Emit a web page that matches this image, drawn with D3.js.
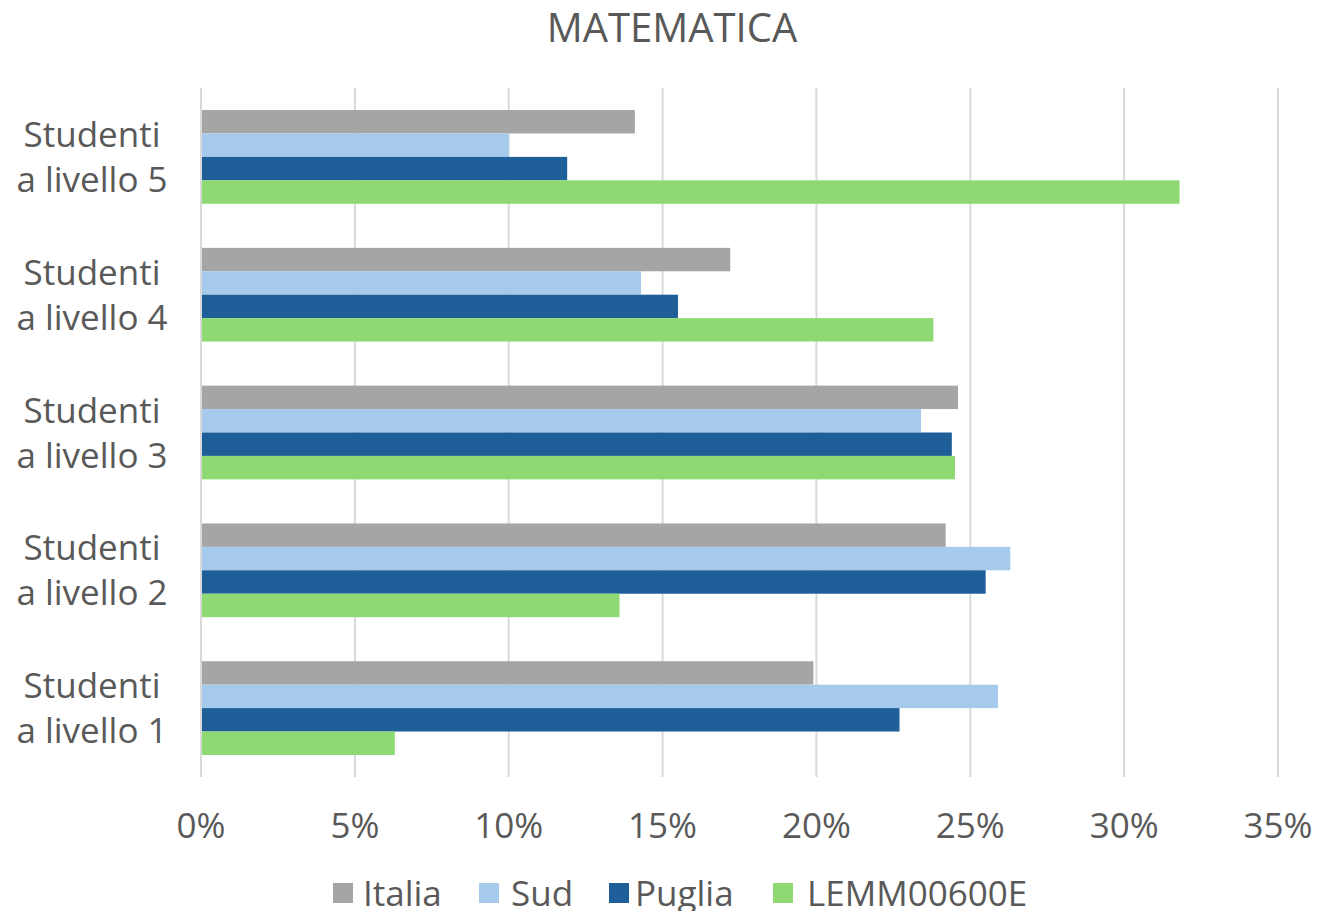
<!DOCTYPE html>
<html>
<head>
<meta charset="utf-8">
<script src="https://cdn.jsdelivr.net/npm/d3@7"></script>
<style>
  body { margin: 0; background: #fff; }
  text { font-family: "Open Sans", "Noto Sans", sans-serif; fill: #595959; }
</style>
</head>
<body>
<script>
// Data
var categories = ["Studenti a livello 5", "Studenti a livello 4", "Studenti a livello 3", "Studenti a livello 2", "Studenti a livello 1"];
var series = ["Italia", "Sud", "Puglia", "LEMM00600E"];
var colors = ["#A5A5A5", "#A6CAEC", "#1F5F99", "#8ED973"];
var italia = [14.1, 17.2, 24.6, 24.2, 19.9];
var sud = [10.0, 14.3, 23.4, 26.3, 25.9];
var puglia = [11.9, 15.5, 24.4, 25.5, 22.7];
var lemm = [31.8, 23.8, 24.5, 13.6, 6.3];
var ticks = [0, 5, 10, 15, 20, 25, 30, 35];

var values = [italia, sud, puglia, lemm];

var W = 1319, H = 911;
var margin = {top: 88, right: 41, bottom: 134, left: 201};
var width = W - margin.left - margin.right,
    height = H - margin.top - margin.bottom;

var svg = d3.select("body").append("svg")
    .attr("width", W)
    .attr("height", H);

var g = svg.append("g")
    .attr("transform", "translate(" + margin.left + "," + margin.top + ")");

var x = d3.scaleLinear().domain([0, 35]).range([0, width]);
var y = d3.scaleBand().domain(categories).range([0, height])
    .paddingInner(0.32).paddingOuter(0.16);
var ySub = d3.scaleBand().domain(series).range([0, y.bandwidth()]);

// gridlines
g.selectAll(".grid")
    .data(ticks)
    .enter().append("line")
      .attr("x1", function(d) { return x(d); })
      .attr("x2", function(d) { return x(d); })
      .attr("y1", 0)
      .attr("y2", height)
      .attr("stroke", "#D9D9D9")
      .attr("stroke-width", 2);

// bars
var groups = g.selectAll(".cat")
    .data(categories)
    .enter().append("g")
      .attr("transform", function(d) { return "translate(0," + y(d) + ")"; });

groups.selectAll("rect")
    .data(function(d, i) { return series.map(function(s, j) { return {s: s, v: values[j][i], c: colors[j]}; }); })
    .enter().append("rect")
      .attr("x", x(0) + 1)
      .attr("y", function(d) { return ySub(d.s); })
      .attr("width", function(d) { return x(d.v) - x(0) - 1; })
      .attr("height", ySub.bandwidth())
      .attr("fill", function(d) { return d.c; });

// x tick labels
g.selectAll(".tick-label")
    .data(ticks)
    .enter().append("text")
      .attr("x", function(d) { return x(d); })
      .attr("y", height + 61)
      .attr("text-anchor", "middle")
      .style("font-size", "35px")
      .text(function(d) { return d + "%"; });

// category labels (two lines)
var lab = g.selectAll(".cat-label")
    .data(categories)
    .enter().append("text")
      .attr("text-anchor", "middle")
      .style("font-size", "35px")
      .attr("transform", function(d) { return "translate(" + (92 - margin.left) + "," + (y(d) + y.bandwidth() / 2) + ")"; });
lab.append("tspan").attr("x", 0).attr("y", -10).text("Studenti");
lab.append("tspan").attr("x", 0).attr("y", 35).text(function(d) { return d.replace("Studenti ", ""); });

// title
svg.append("text")
    .attr("x", 672)
    .attr("y", 42)
    .attr("text-anchor", "middle")
    .style("font-size", "40px")
    .text("MATEMATICA");

// legend
var legendX = [333, 479, 609, 773];
var legendTextX = [363, 511, 635, 807];
var legend = svg.selectAll(".legend")
    .data(series)
    .enter().append("g")
      .attr("transform", function(d, i) { return "translate(" + legendX[i] + ",883)"; });
legend.append("rect")
    .attr("width", 20)
    .attr("height", 20)
    .attr("fill", function(d, i) { return colors[i]; });
legend.append("text")
    .attr("x", function(d, i) { return legendTextX[i] - legendX[i]; })
    .attr("y", 23)
    .style("font-size", "35px")
    .text(function(d) { return d; });
</script>
</body>
</html>
